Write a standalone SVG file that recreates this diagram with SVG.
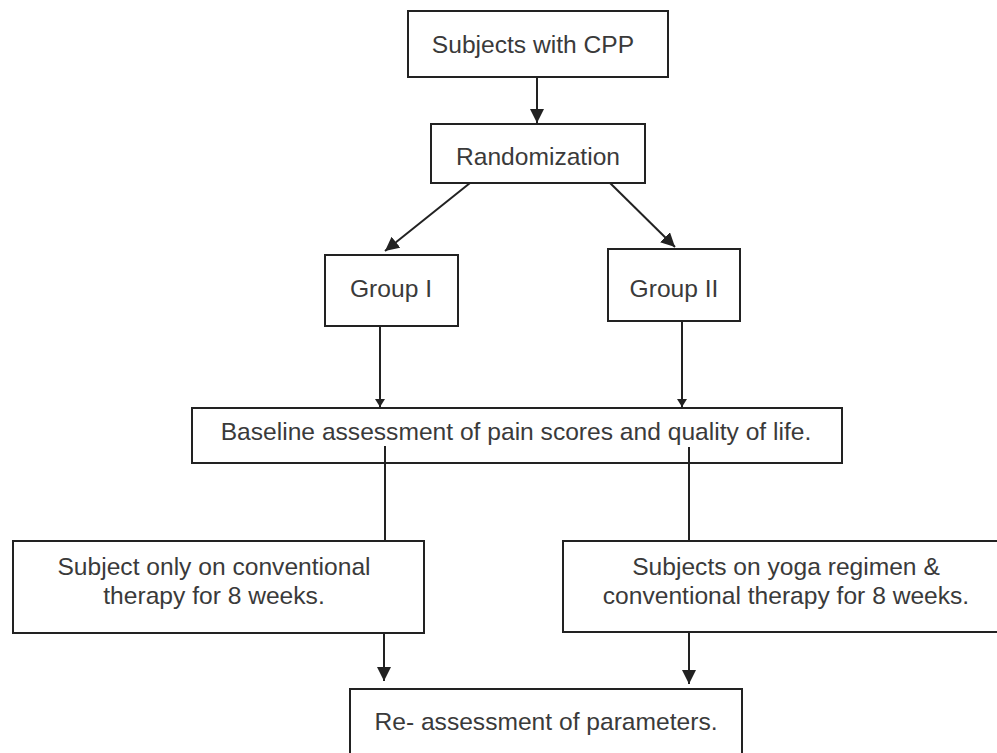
<svg xmlns="http://www.w3.org/2000/svg" width="997" height="753" viewBox="0 0 997 753">
<defs>
<style>
.box{fill:#fff;stroke:#222;stroke-width:2}
.t{font-family:"Liberation Sans",Arial,sans-serif;font-size:24.6px;fill:#3a3a3a;text-anchor:middle}
.c{stroke:#222;stroke-width:2;fill:none}
</style>
<marker id="ah" markerUnits="userSpaceOnUse" markerWidth="14" markerHeight="14" viewBox="0 0 14 14" refX="14" refY="7" orient="auto">
<path d="M0,0 L14,7 L0,14 Z" fill="#222"/>
</marker>
<marker id="ahs" markerUnits="userSpaceOnUse" markerWidth="8" markerHeight="10" viewBox="0 0 8 10" refX="8" refY="5" orient="auto">
<path d="M0,0 L8,5 L0,10 Z" fill="#222"/>
</marker>
</defs>
<rect width="997" height="753" fill="#fff"/>
<g id="connectors">
<line class="c" x1="537" y1="77" x2="537" y2="123" marker-end="url(#ah)"/>
<line class="c" x1="470" y1="183" x2="385" y2="251" marker-end="url(#ah)"/>
<line class="c" x1="608" y1="181" x2="675" y2="247" marker-end="url(#ah)"/>
<line class="c" x1="380" y1="326" x2="380" y2="407" marker-end="url(#ahs)"/>
<line class="c" x1="682" y1="321" x2="682" y2="407" marker-end="url(#ahs)"/>
<line class="c" x1="385" y1="446" x2="385" y2="541"/>
<line class="c" x1="689" y1="447" x2="689" y2="541"/>
<line class="c" x1="384" y1="633" x2="384" y2="681" marker-end="url(#ah)"/>
<line class="c" x1="689" y1="632" x2="689" y2="684" marker-end="url(#ah)"/>
</g>
<g id="n1"><rect class="box" x="408" y="11" width="260" height="66"/><text class="t" x="533" y="53">Subjects with CPP</text></g>
<g id="n2"><rect class="box" x="431" y="124" width="214" height="59"/><text class="t" x="538" y="165">Randomization</text></g>
<g id="n3"><rect class="box" x="325" y="255" width="133" height="71"/><text class="t" x="391" y="297">Group I</text></g>
<g id="n4"><rect class="box" x="608" y="249" width="132" height="72"/><text class="t" x="674" y="297">Group II</text></g>
<g id="n5"><rect class="box" x="192" y="408" width="650" height="55"/><text class="t" x="516" y="440">Baseline assessment of pain scores and quality of life.</text>
<line class="c" x1="385" y1="446" x2="385" y2="463"/><line class="c" x1="689" y1="447" x2="689" y2="463"/></g>
<g id="n6"><rect class="box" x="13" y="541" width="411" height="92"/><text class="t" x="214" y="575">Subject only on conventional</text><text class="t" x="214" y="604">therapy for 8 weeks.</text></g>
<g id="n7"><rect class="box" x="563" y="541" width="440" height="91"/><text class="t" x="786" y="575">Subjects on yoga regimen &amp;</text><text class="t" x="786" y="604">conventional therapy for 8 weeks.</text></g>
<g id="n8"><rect class="box" x="350" y="689" width="392" height="70"/><text class="t" x="546" y="730">Re- assessment of parameters.</text></g>
</svg>
